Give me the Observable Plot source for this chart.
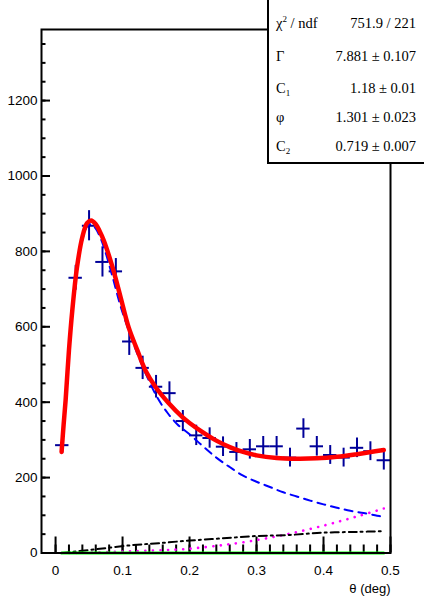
<!DOCTYPE html>
<html><head><meta charset="utf-8">
<script src="https://cdn.jsdelivr.net/npm/d3@7"></script>
<script src="https://cdn.jsdelivr.net/npm/@observablehq/plot@0.6"></script>
<style>body{margin:0;background:#fff}#chart{width:424px;height:596px}</style>
</head><body><div id="chart"></div>
<script>
// ---- data ----
const binCenters = [0.01,0.03,0.05,0.07,0.09,0.11,0.13,0.15,0.17,0.19,0.21,0.23,0.25,0.27,0.29,0.31,0.33,0.35,0.37,0.39,0.41,0.43,0.45,0.47,0.49];
const counts     = [286,730,868,772,747,561,491,441,424,350,312,305,282,268,275,283,283,253,330,283,260,253,279,270,246];
const countErrors= [22,33,40,40,34,37,31,30,30,28,27,27,26,25,26,26,26,25,26,26,25,25,26,25,26];
const binHalfWidth = 0.01;

const fitX = [0.009,0.012,0.015,0.02,0.025,0.032,0.04,0.047,0.053,0.06,0.066,0.072,0.085,0.097,0.109,0.122,0.134,0.149,0.169,0.189,0.2,0.22,0.24,0.26,0.28,0.3,0.33,0.36,0.39,0.42,0.45,0.49];
const fitY = [268,340,405,538,644,758,838,875,882,872,853,829,758,679,599,538,485,441,397,361,345,320,298,281,268,259,252,250,251,255,262,273];

const sigX = [0.009,0.012,0.015,0.02,0.025,0.032,0.04,0.047,0.053,0.06,0.066,0.072,0.085,0.097,0.11,0.124,0.134,0.152,0.167,0.182,0.2,0.22,0.24,0.26,0.28,0.3,0.32,0.34,0.36,0.38,0.4,0.42,0.44,0.46,0.48,0.49];
const sigY = [266,336,400,533,638,750,830,866,872,860,840,812,733,655,586,520,478,412,372,341,315,283,253,228,205,189,175,161,150,139,129,120,112,106,99,96];

const magX = [0.009,0.05,0.1,0.15,0.19,0.236,0.286,0.346,0.403,0.448,0.49];
const magY = [0,1,4,7,10,18,30,50,74,96,118];

const bkgX = [0.009,0.06,0.115,0.154,0.2,0.25,0.3,0.35,0.4,0.45,0.49];
const bkgY = [0,10,21,26,33,39,45,48,54,56,58];

const zeroX = [0.009,0.49];
const zeroY = [0,0];

const xMajorTicks = [0,0.1,0.2,0.3,0.4,0.5];
const xTickLabels = ["0","0.1","0.2","0.3","0.4","0.5"];
const xMinorTicks = [0,0.02,0.04,0.06,0.08,0.1,0.12,0.14,0.16,0.18,0.2,0.22,0.24,0.26,0.28,0.3,0.32,0.34,0.36,0.38,0.4,0.42,0.44,0.46,0.48,0.5];
const yMajorTicks = [0,200,400,600,800,1000,1200];
const yTickLabels = ["0","200","400","600","800","1000","1200"];
const yMinorTicks = d3.range(0, 1400, 50);
const xTitle = "θ (deg)";

const statLabels = [
  [["χ",""],["2","sup"],["\u00A0/ ndf","back"]],
  [["Γ",""]],
  [["C",""],["1","sub"]],
  [["φ",""]],
  [["C",""],["2","sub"]]
];
const statValues = ["751.9 / 221","7.881 ± 0.107","1.18 ± 0.01","1.301 ± 0.023","0.719 ± 0.007"];

// ---- layout ----
const W = 424, H = 596, mL = 41, mR = 34, mT = 29, mB = 43.5;
const innerW = W - mL - mR, innerH = H - mT - mB;

const points = binCenters.map((x, i) => ({x, y: counts[i], e: countErrors[i]}));
const pairs = (xs, ys) => xs.map((x, i) => ({x, y: ys[i]}));

const plot = Plot.plot({
  width: W, height: H,
  marginLeft: mL, marginRight: mR, marginTop: mT, marginBottom: mB,
  x: {domain: [-0.021, 0.5], label: null},
  y: {domain: [0, 1388.5], label: null},
  style: {fontFamily: "'Liberation Sans', Arial, sans-serif", fontSize: "13px", background: "white", color: "black"},
  marks: [
    Plot.ruleX(xMinorTicks, {x: d => d, insetTop: innerH - 8, stroke: "black", strokeWidth: 2}),
    Plot.ruleX(xMajorTicks, {x: d => d, insetTop: innerH - 16, stroke: "black", strokeWidth: 2}),
    Plot.ruleY(yMinorTicks, {y: d => d, insetRight: innerW - 4.5, stroke: "black", strokeWidth: 2}),
    Plot.ruleY(yMajorTicks, {y: d => d, insetRight: innerW - 9, stroke: "black", strokeWidth: 2}),
    Plot.axisX(xMajorTicks, {tickSize: 0, tickPadding: 12, label: null, fontSize: 13.5,
      tickFormat: d => xTickLabels[xMajorTicks.indexOf(d)]}),
    Plot.axisY(yMajorTicks, {tickSize: 0, tickPadding: 4, label: null, fontSize: 13.5,
      tickFormat: d => yTickLabels[yMajorTicks.indexOf(d)]}),
    Plot.ruleX(points, {x: "x", y1: d => d.y - d.e, y2: d => d.y + d.e, stroke: "#000099", strokeWidth: 2}),
    Plot.ruleY(points, {y: "y", x1: d => d.x - binHalfWidth, x2: d => d.x + binHalfWidth, stroke: "#000099", strokeWidth: 2}),
    Plot.line(pairs(sigX, sigY), {x: "x", y: "y", stroke: "#0000ff", strokeWidth: 2, strokeDasharray: "8,6", curve: "catmull-rom"}),
    Plot.line(pairs(magX, magY), {x: "x", y: "y", stroke: "#ff00ff", strokeWidth: 2.6, strokeDasharray: "0.1,7.5", strokeLinecap: "round", curve: "catmull-rom"}),
    Plot.line(pairs(bkgX, bkgY), {x: "x", y: "y", stroke: "black", strokeWidth: 2, strokeDasharray: "8,4,2,4", curve: "catmull-rom"}),
    Plot.line(pairs(zeroX, zeroY), {x: "x", y: "y", stroke: "#00ff00", strokeWidth: 3}),
    Plot.line(pairs(fitX, fitY), {x: "x", y: "y", stroke: "#ff0000", strokeWidth: 4.5, curve: "catmull-rom"}),
    Plot.frame({stroke: "black", strokeWidth: 2}),
    Plot.text([xTitle], {frameAnchor: "bottom-right", textAnchor: "end", lineAnchor: "bottom", dy: 40, fontSize: 13})
  ]
});

// ---- statistics box ----
const svg = d3.select(plot);
const g = svg.append("g")
  .attr("font-family", "'Liberation Serif', 'Times New Roman', serif")
  .attr("font-size", 14.5).attr("fill", "black").attr("text-anchor", "start");
g.append("rect").attr("x", 268).attr("y", -2).attr("width", 160).attr("height", 165)
  .attr("fill", "white").attr("stroke", "black").attr("stroke-width", 2);
const baselines = [28, 61, 93, 122, 151];
statLabels.forEach((parts, i) => {
  const t = g.append("text").attr("x", 276).attr("y", baselines[i]).attr("text-anchor", "start");
  parts.forEach(([s, kind]) => {
    const ts = t.append("tspan").text(s);
    if (kind === "sup") ts.attr("font-size", 9).attr("dy", -6);
    if (kind === "sub") ts.attr("font-size", 9).attr("dy", 3);
    if (kind === "back") ts.attr("dy", 6);
  });
});
statValues.forEach((v, i) => {
  g.append("text").attr("x", 416).attr("y", baselines[i]).attr("text-anchor", "end").text(v);
});

document.getElementById("chart").appendChild(plot);
</script>
</body></html>
